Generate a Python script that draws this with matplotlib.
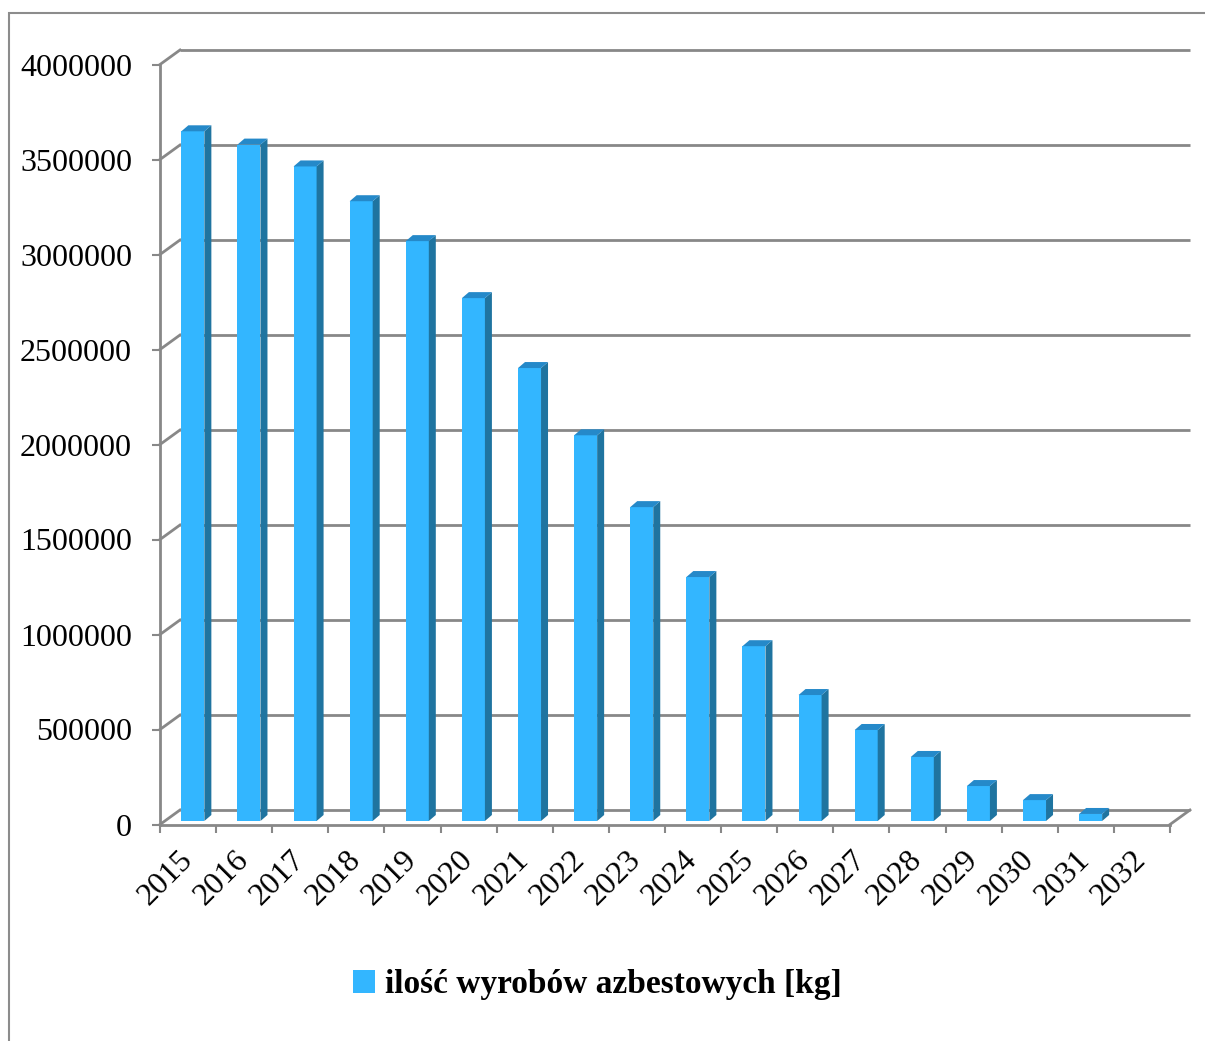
import matplotlib.pyplot as plt
from matplotlib.patches import Patch, Polygon, Rectangle
import numpy as np

# data
years = [str(y) for y in range(2015, 2033)]
amounts = [3630000, 3560000, 3445000, 3262000, 3052000, 2752000, 2384000,
           2030000, 1652000, 1284000, 920000, 663000, 479000, 337000,
           184000, 110000, 37000, 0]
y_ticks = list(range(0, 4000001, 500000))
legend_label = "ilość wyrobów azbestowych [kg]"

FRONT = '#33B6FF'
SIDE = '#1F74A0'
TOP = '#2589C9'
GRID = '#888888'

W, H = 1205, 1041
fig = plt.figure(figsize=(W / 100, H / 100), dpi=100)
plt.rcParams['font.family'] = ['Liberation Serif', 'DejaVu Serif']

# front plane of the 3d box, in pixels
left_px, right_px, top_px, bot_px = 160, 1170, 64.5, 824.5
ax = fig.add_axes([left_px / W, 1 - bot_px / H,
                   (right_px - left_px) / W, (bot_px - top_px) / H])
n = len(years)
ax.set_xlim(0, n)
ax.set_ylim(0, 4000000)

px_x = (right_px - left_px) / n          # pixels per category
px_y = (bot_px - top_px) / 4000000       # pixels per kg

# offsets (px) -> data units
wall_dx, wall_dy = 20 / px_x, 14.5 / px_y    # back wall
bar_dx, bar_dy = 4.8 / px_x, 3.5 / px_y      # bar front face position
dep_dx, dep_dy = 7 / px_x, 6 / px_y          # bar depth

# back wall gridlines + left wall diagonals
for v in y_ticks:
    ax.plot([wall_dx, n + wall_dx], [v + wall_dy, v + wall_dy], color=GRID,
            lw=2, clip_on=False, zorder=1, solid_capstyle='butt')
    ax.plot([0, wall_dx], [v, v + wall_dy], color=GRID, lw=2,
            clip_on=False, zorder=1)
ax.plot([n, n + wall_dx], [0, wall_dy], color=GRID, lw=2, clip_on=False, zorder=1)

# bars
width = 0.41
x = np.arange(n) + 0.5 + bar_dx
ax.bar(x, amounts, width=width, bottom=bar_dy, color=FRONT, zorder=3)
for xi, v in zip(x, amounts):
    if v <= 0:
        continue
    xl, xr = xi - width / 2, xi + width / 2
    b, t = bar_dy, v + bar_dy
    ax.add_patch(Polygon([(xr, b), (xr + dep_dx, b + dep_dy),
                          (xr + dep_dx, t + dep_dy), (xr, t)],
                         closed=True, facecolor=SIDE, edgecolor='none',
                         zorder=3, clip_on=False))
    ax.add_patch(Polygon([(xl, t), (xl + dep_dx, t + dep_dy),
                          (xr + dep_dx, t + dep_dy), (xr, t)],
                         closed=True, facecolor=TOP, edgecolor='none',
                         zorder=3, clip_on=False))

# axes
for s in ['top', 'right']:
    ax.spines[s].set_visible(False)
for s in ['left', 'bottom']:
    ax.spines[s].set_color(GRID)
    ax.spines[s].set_linewidth(2)
    ax.spines[s].set_zorder(4)

ax.set_yticks(y_ticks)
ax.set_yticklabels([str(v) for v in y_ticks])
ax.tick_params(axis='y', length=5.8, width=1.5, color=GRID, pad=14.4,
               labelsize=23)

ax.set_xticks(np.arange(n + 1))
ax.set_xticklabels([])
ax.set_xticks(np.arange(n) + 0.5, minor=True)
ax.set_xticklabels(years, minor=True)
ax.tick_params(axis='x', which='major', length=5.8, width=1.5, color=GRID)
ax.tick_params(axis='x', which='minor', length=0, pad=22, labelsize=23)
plt.setp(ax.get_xticklabels(minor=True), rotation=45, ha='right',
         va='center', rotation_mode='anchor')

# chart area border (runs off the right and bottom edges)
fig.patches.append(Rectangle((9 / W, -0.1), 1.2, 1 - 12.7 / H + 0.1,
                             transform=fig.transFigure, fill=False,
                             edgecolor='#8C8C8C', lw=1.5))

fig.legend(handles=[Patch(facecolor=FRONT)], labels=[legend_label],
           loc='center', bbox_to_anchor=(0.496, 0.054), frameon=False,
           prop={'family': 'Liberation Serif', 'weight': 'bold', 'size': 24},
           handlelength=0.65, handleheight=0.65, handletextpad=0.3)

fig.savefig('out.png', dpi=100)
